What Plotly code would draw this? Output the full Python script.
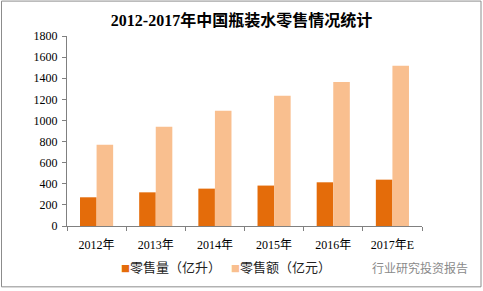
import plotly.graph_objects as go

categories = ["2012年", "2013年", "2014年", "2015年", "2016年", "2017年E"]
volume = [272, 319, 354, 383, 414, 439]      # 零售量（亿升）
value = [770, 940, 1091, 1233, 1365, 1519]   # 零售额（亿元）
yticks = [0, 200, 400, 600, 800, 1000, 1200, 1400, 1600, 1800]
series_names = ["零售量（亿升）", "零售额（亿元）"]
colors = ["#E46C0A", "#F9BF8F"]

W, H = 483, 291
L, R, T, B = 67, 61, 36, 64.5
pw, ph = W - L - R, H - T - B

def px(x):
    return (x - L) / pw

def py(y):
    return (H - B - y) / ph

serif = "Liberation Serif, Noto Sans CJK SC, serif"
cjk = "Noto Sans CJK SC, sans-serif"

fig = go.Figure()
for name, vals, col in zip(series_names, [volume, value], colors):
    fig.add_trace(go.Bar(x=categories, y=vals, name=name, showlegend=False,
                         marker=dict(color=col, line=dict(width=0))))

fig.update_layout(
    width=W, height=H,
    margin=dict(l=L, r=R, t=T, b=B, pad=0),
    paper_bgcolor="white", plot_bgcolor="white",
    barmode="group", bargap=0.44, bargroupgap=0,
    title=dict(text="<b>2012-2017年中国瓶装水零售情况统计</b>",
               font=dict(family="Liberation Serif, Noto Sans CJK SC, serif", size=16, color="black"),
               x=0.5, xanchor="center", y=1 - 20 / H, yanchor="middle"),
    xaxis=dict(type="category", showline=True, linecolor="#808080", linewidth=1,
               ticks="outside", tickson="boundaries", ticklen=4, tickcolor="#808080",
               ticklabelstandoff=8,
               showgrid=False, tickfont=dict(family=serif, size=12, color="black")),
    yaxis=dict(range=[0, 1800], tickvals=yticks, showline=True, linecolor="#808080",
               linewidth=1, ticks="outside", ticklen=4, tickcolor="#808080",
               ticklabelstandoff=2,
               showgrid=False, zeroline=False,
               tickfont=dict(family=serif, size=12, color="black")),
    showlegend=False,
)

# legend entries (small squares next to text, as in the original)
legend_x = [119, 229]
for lx, name, col in zip(legend_x, series_names, colors):
    fig.add_annotation(text=f"<span style='color:{col};font-size:9px'>■</span>{name}",
                       xref="paper", yref="paper", x=px(lx), y=py(267),
                       xanchor="left", yanchor="middle", showarrow=False,
                       font=dict(family=cjk, size=13, color="#222"))

fig.add_annotation(text="行业研究投资报告", xref="paper", yref="paper",
                   x=px(470), y=py(268), xanchor="right", yanchor="middle",
                   showarrow=False, font=dict(family=cjk, size=12, color="#8a8a8a"))

fig.add_shape(type="rect", xref="paper", yref="paper",
              x0=px(1.5), x1=px(481), y0=py(287.5), y1=py(1),
              line=dict(color="#8c8c8c", width=1), layer="below")

fig.write_html("out.html")
